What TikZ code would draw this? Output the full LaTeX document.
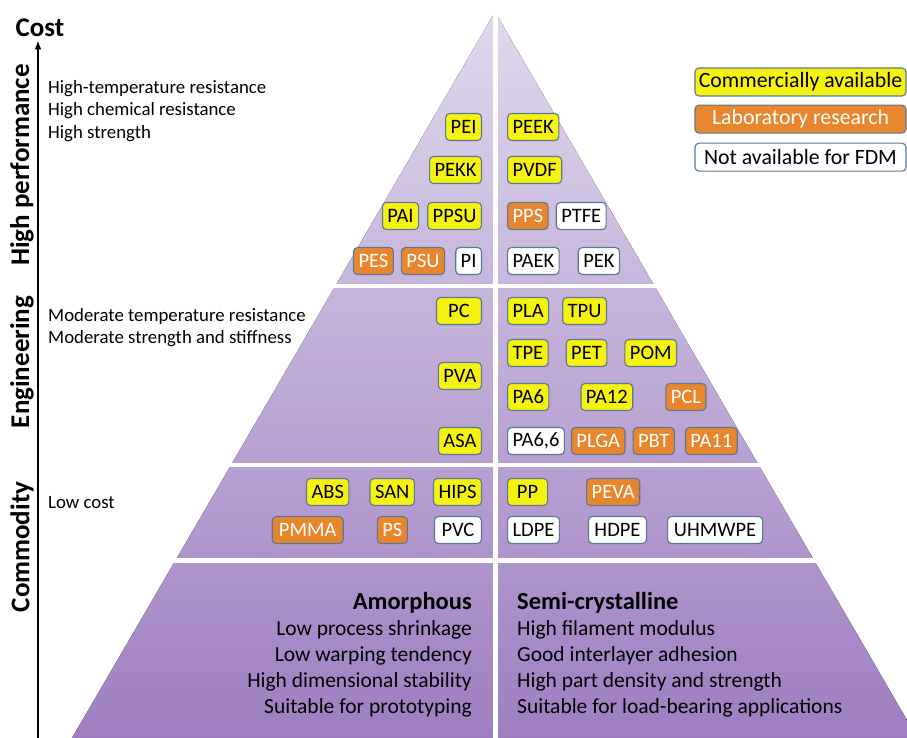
\documentclass[tikz,border=0pt]{standalone}
\usepackage{fontspec}
\setmainfont{Carlito}
\usetikzlibrary{positioning, arrows.meta}

\definecolor{matyellow}{RGB}{246,242,16}
\definecolor{matorange}{RGB}{232,134,46}
\definecolor{matedge}{RGB}{88,120,152}
\definecolor{pyrtop}{RGB}{224,216,236}
\definecolor{pyrbot}{RGB}{158,126,193}

\begin{document}
\begin{tikzpicture}[x=1pt, y=-1pt, >=Latex, node distance=8pt,
    box/.style={draw=matedge, line width=1.1pt, rounded corners=4pt, minimum height=27pt, inner xsep=5pt, inner ysep=0pt, font=\fontsize{20.5}{20.5}\selectfont},
    yel/.style={box, fill=matyellow},
    org/.style={box, fill=matorange, text=white},
    wht/.style={box, fill=white},
    legend/.style={draw=matedge, line width=1.1pt, rounded corners=4pt, minimum width=211pt, minimum height=28pt, inner sep=0pt, font=\fontsize{21.8}{21.8}\selectfont},
    side/.style={anchor=north west, align=left, inner sep=0pt, font=\fontsize{18.8}{22.5}\selectfont},
    tier/.style={rotate=90, font=\bfseries\fontsize{27}{27}\selectfont},
    props/.style={inner sep=0pt, font=\fontsize{21.5}{26}\selectfont}]
    \useasboundingbox (0,0) rectangle (907,738);

    % Pyramid and white gaps
    \fill[top color=pyrtop, bottom color=pyrbot] (495,12) -- (907,720) -- (907,738) -- (72,738) -- cycle;
    \fill[white] (60,283.5) rectangle (907,288);
    \fill[white] (60,462.5) rectangle (907,467);
    \fill[white] (60,557.5) rectangle (907,563);
    \fill[white] (493,0) rectangle (497.5,738);

    % Cost axis
    \node[font=\bfseries\fontsize{27}{27}\selectfont] (cost) at (40,28) {Cost};
    \coordinate (axisbot) at (38,738);
    \draw[line width=2pt, -{Latex[length=9pt,width=7pt]}] (axisbot) -- (axisbot |- cost.south);

    % Tier labels and properties
    \node[tier] (hplabel) at (22,165) {High performance};
    \node[tier] (englabel) at (22,362) {Engineering};
    \node[tier] (comlabel) at (22,547) {Commodity};
    \node[side] (hptext) at (48,80) {High-temperature resistance\\High chemical resistance\\High strength};
    \node[side] (engtext) at (48,308) {Moderate temperature resistance\\Moderate strength and stiffness};
    \node[side] (comtext) at (48,496) {Low cost};

    % Legend
    \node[legend, fill=matyellow] (lgcomm) at (800.5,82) {Commercially available};
    \node[legend, fill=matorange, text=white, below=8pt of lgcomm] (lglab) {Laboratory research};
    \node[legend, fill=white, below=9pt of lglab] (lgnone) {Not available for FDM};

    % High performance
    \node[yel, anchor=east] (pei) at (482,127) {PEI};
    \node[yel, anchor=east] (pekk) at (482,170) {PEKK};
    \node[yel, anchor=east] (ppsu) at (482,216) {PPSU};
    \node[yel, left=8pt of ppsu] (pai) {PAI};
    \node[wht, anchor=east] (pi) at (482,261) {PI};
    \node[org, left=10pt of pi] (psu) {PSU};
    \node[org, left=7pt of psu] (pes) {PES};
    \node[yel, anchor=west] (peek) at (507,127) {PEEK};
    \node[yel, anchor=west] (pvdf) at (507,170) {PVDF};
    \node[org, anchor=west] (pps) at (507,216) {PPS};
    \node[wht, right=7pt of pps] (ptfe) {PTFE};
    \node[wht, anchor=west] (paek) at (507,261) {PAEK};
    \node[wht, right=18pt of paek] (pek) {PEK};

    % Engineering
    \node[yel, anchor=east, minimum width=45pt] (pc) at (482,311) {PC};
    \node[yel, anchor=east] (pva) at (482,376) {PVA};
    \node[yel, anchor=east] (asa) at (482,441) {ASA};
    \node[yel, anchor=west] (pla) at (507,311) {PLA};
    \node[yel, right=13pt of pla] (tpu) {TPU};
    \node[yel, anchor=west] (tpe) at (507,353) {TPE};
    \node[yel, right=17pt of tpe] (pet) {PET};
    \node[yel, right=17pt of pet] (pom) {POM};
    \node[yel, anchor=west] (pa6) at (507,397) {PA6};
    \node[yel, right=31pt of pa6] (pa12) {PA12};
    \node[org, right=32pt of pa12] (pcl) {PCL};
    \node[wht, anchor=west] (pa66) at (507,441) {PA6,6};
    \node[org, right=6pt of pa66] (plga) {PLGA};
    \node[org, right=7pt of plga] (pbt) {PBT};
    \node[org, right=10pt of pbt] (pa11) {PA11};

    % Commodity
    \node[yel, anchor=east] (hips) at (482,492) {HIPS};
    \node[yel, left=18pt of hips] (san) {SAN};
    \node[yel, left=20pt of san] (abs) {ABS};
    \node[wht, anchor=east, minimum width=47pt] (pvc) at (482,530) {PVC};
    \node[org, left=26pt of pvc] (ps) {PS};
    \node[org, left=33pt of ps, minimum width=71pt] (pmma) {PMMA};
    \node[yel, anchor=west, minimum width=40pt] (pp) at (507,492) {PP};
    \node[org, right=38pt of pp] (peva) {PEVA};
    \node[wht, anchor=west] (ldpe) at (507,530) {LDPE};
    \node[wht, right=28pt of ldpe, minimum width=58pt] (hdpe) {HDPE};
    \node[wht, right=20pt of hdpe, minimum width=95pt] (uhmwpe) {UHMWPE};

    % Amorphous vs semi-crystalline
    \node[props, align=right, anchor=north east] (amorph) at (472,592) {{\bfseries\fontsize{24.5}{26}\selectfont Amorphous}\\Low process shrinkage\\Low warping tendency\\High dimensional stability\\Suitable for prototyping\hspace{7pt}};
    \node[props, align=left, anchor=north west] (semi) at (517,592) {{\bfseries\fontsize{24.5}{26}\selectfont Semi-crystalline}\\High filament modulus\\Good interlayer adhesion\\High part density and strength\\Suitable for load-bearing applications};
\end{tikzpicture}
\end{document}
